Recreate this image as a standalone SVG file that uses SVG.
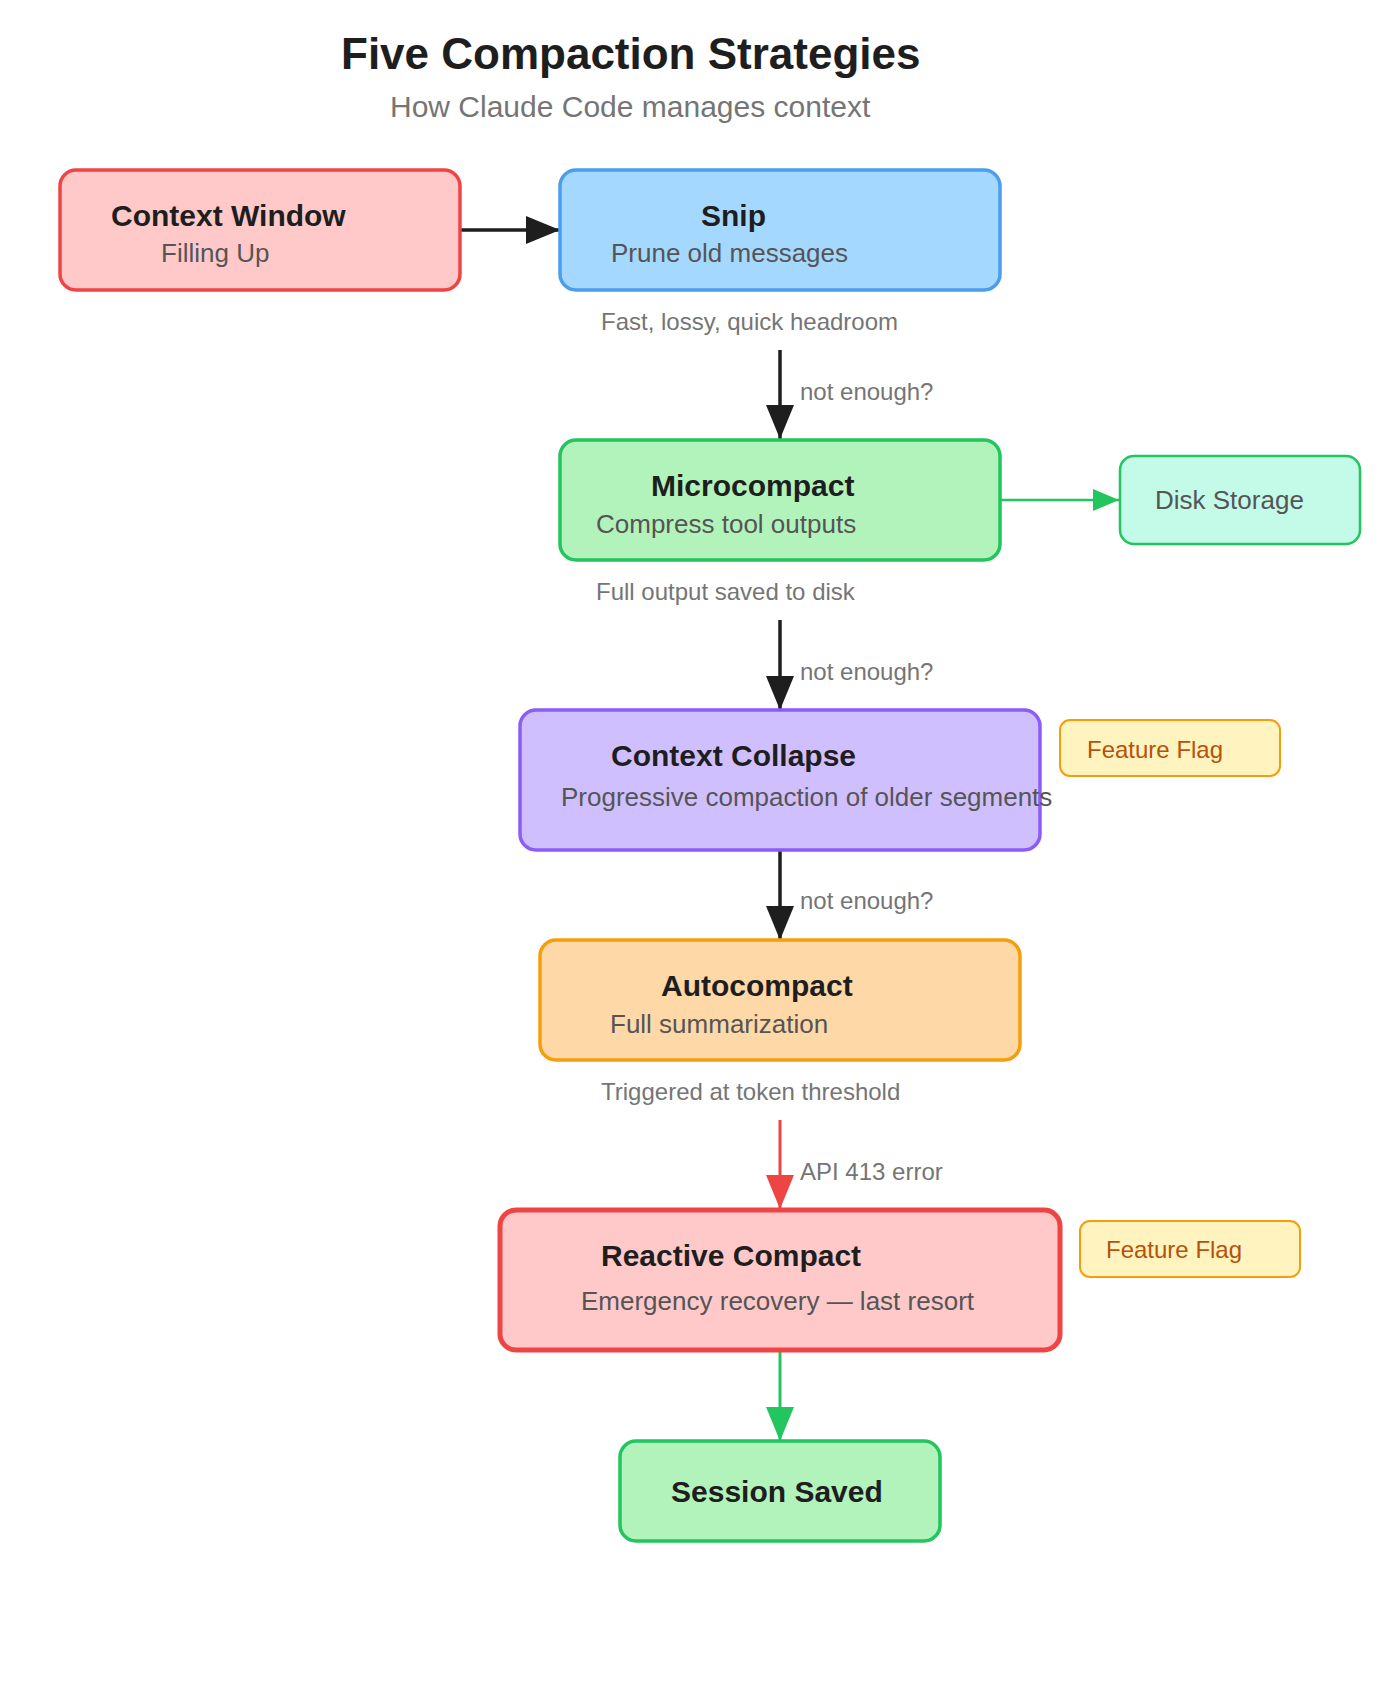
<svg xmlns="http://www.w3.org/2000/svg" width="1400" height="1700" viewBox="0 0 1400 1700">
<style>
text{font-family:"Liberation Sans",Arial,Helvetica,sans-serif}
.title{font-size:44px;font-weight:bold;fill:#1e1e1e}
.sub{font-size:30px;fill:#757575}
.nt{font-size:30px;font-weight:bold;fill:#1e1e1e}
.ns{font-size:26px;fill:#555555}
.el{font-size:24px;fill:#757575}
.ff{font-size:24px;fill:#b45309}
</style>
<defs>
<marker id="ahBlack" markerUnits="userSpaceOnUse" markerWidth="34" markerHeight="28" refX="34" refY="14" orient="auto"><path d="M0,0 L34,14 L0,28 z" fill="#1e1e1e"/></marker>
<marker id="ahRed" markerUnits="userSpaceOnUse" markerWidth="34" markerHeight="28" refX="34" refY="14" orient="auto"><path d="M0,0 L34,14 L0,28 z" fill="#ef4444"/></marker>
<marker id="ahGreen" markerUnits="userSpaceOnUse" markerWidth="34" markerHeight="28" refX="34" refY="14" orient="auto"><path d="M0,0 L34,14 L0,28 z" fill="#22c55e"/></marker>
<marker id="ahGreenS" markerUnits="userSpaceOnUse" markerWidth="26" markerHeight="22" refX="26" refY="11" orient="auto"><path d="M0,0 L26,11 L0,22 z" fill="#22c55e"/></marker>
</defs>
<rect width="1400" height="1700" fill="#ffffff"/>
<text class="title" x="341" y="69">Five Compaction Strategies</text>
<text class="sub" x="390" y="117">How Claude Code manages context</text>

<g id="connectors" fill="none">
<line x1="461" y1="230" x2="560" y2="230" stroke="#1e1e1e" stroke-width="3.5" marker-end="url(#ahBlack)"/>
<line x1="780" y1="350" x2="780" y2="439" stroke="#1e1e1e" stroke-width="3.5" marker-end="url(#ahBlack)"/>
<line x1="1000" y1="500" x2="1119" y2="500" stroke="#22c55e" stroke-width="2.5" marker-end="url(#ahGreenS)"/>
<line x1="780" y1="620" x2="780" y2="710" stroke="#1e1e1e" stroke-width="3.5" marker-end="url(#ahBlack)"/>
<line x1="780" y1="850" x2="780" y2="940" stroke="#1e1e1e" stroke-width="3.5" marker-end="url(#ahBlack)"/>
<line x1="780" y1="1120" x2="780" y2="1209" stroke="#ef4444" stroke-width="3" marker-end="url(#ahRed)"/>
<line x1="780" y1="1350" x2="780" y2="1441" stroke="#22c55e" stroke-width="3" marker-end="url(#ahGreen)"/>
<g id="edge-labels">
<text class="el" x="601" y="330">Fast, lossy, quick headroom</text>
<text class="el" x="800" y="400">not enough?</text>
<text class="el" x="596" y="600">Full output saved to disk</text>
<text class="el" x="800" y="680">not enough?</text>
<text class="el" x="800" y="909">not enough?</text>
<text class="el" x="601" y="1100">Triggered at token threshold</text>
<text class="el" x="800" y="1180">API 413 error</text>
</g>
</g>

<g id="context-window">
<rect x="60" y="170" width="400" height="120" rx="16" fill="#ffc9c9" stroke="#ef4444" stroke-width="3.5"/>
<text class="nt" x="111" y="226">Context Window</text>
<text class="ns" x="161" y="262">Filling Up</text>
</g>
<g id="snip">
<rect x="560" y="170" width="440" height="120" rx="16" fill="#a5d8ff" stroke="#4a9eed" stroke-width="3.5"/>
<text class="nt" x="701" y="226">Snip</text>
<text class="ns" x="611" y="262">Prune old messages</text>
</g>
<g id="microcompact">
<rect x="560" y="440" width="440" height="120" rx="16" fill="#b2f2bb" stroke="#22c55e" stroke-width="3.5"/>
<text class="nt" x="651" y="496">Microcompact</text>
<text class="ns" x="596" y="533">Compress tool outputs</text>
</g>
<g id="disk-storage">
<rect x="1120" y="456" width="240" height="88" rx="14" fill="#c3fae8" stroke="#22c55e" stroke-width="2.5"/>
<text class="ns" x="1155" y="509">Disk Storage</text>
</g>
<g id="context-collapse">
<rect x="520" y="710" width="520" height="140" rx="16" fill="#d0bfff" stroke="#8b5cf6" stroke-width="3.5"/>
<text class="nt" x="611" y="766">Context Collapse</text>
<text class="ns" x="561" y="806">Progressive compaction of older segments</text>
</g>
<g id="feature-flag-1">
<rect x="1060" y="720" width="220" height="56" rx="10" fill="#fff3bf" stroke="#f59e0b" stroke-width="2"/>
<text class="ff" x="1087" y="758">Feature Flag</text>
</g>
<g id="autocompact">
<rect x="540" y="940" width="480" height="120" rx="16" fill="#ffd8a8" stroke="#f59e0b" stroke-width="3.5"/>
<text class="nt" x="661" y="996">Autocompact</text>
<text class="ns" x="610" y="1033">Full summarization</text>
</g>
<g id="reactive-compact">
<rect x="500" y="1210" width="560" height="140" rx="16" fill="#ffc9c9" stroke="#ef4444" stroke-width="5"/>
<text class="nt" x="601" y="1266">Reactive Compact</text>
<text class="ns" x="581" y="1310">Emergency recovery — last resort</text>
</g>
<g id="feature-flag-2">
<rect x="1080" y="1221" width="220" height="56" rx="10" fill="#fff3bf" stroke="#f59e0b" stroke-width="2"/>
<text class="ff" x="1106" y="1258">Feature Flag</text>
</g>
<g id="session-saved">
<rect x="620" y="1441" width="320" height="100" rx="16" fill="#b2f2bb" stroke="#22c55e" stroke-width="3.5"/>
<text class="nt" x="671" y="1502">Session Saved</text>
</g>
</svg>
